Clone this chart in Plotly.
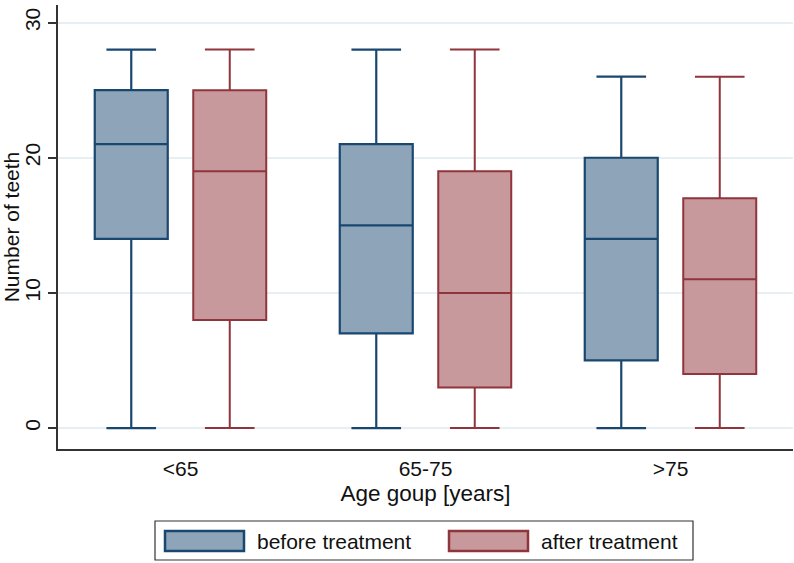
import plotly.graph_objects as go

groups = ["<65", "65-75", ">75"]
before_q1 = [14, 7, 5]
before_med = [21, 15, 14]
before_q3 = [25, 21, 20]
before_lo = [0, 0, 0]
before_hi = [28, 28, 26]

after_q1 = [8, 3, 4]
after_med = [19, 10, 11]
after_q3 = [25, 19, 17]
after_lo = [0, 0, 0]
after_hi = [28, 28, 26]

series_names = ["before treatment", "after treatment"]
line_colors = ["#1a476f", "#90353b"]
fill_colors = ["#8ea4b8", "#c8999c"]

fig = go.Figure()
data = [
    (before_q1, before_med, before_q3, before_lo, before_hi),
    (after_q1, after_med, after_q3, after_lo, after_hi),
]
for i, (q1, med, q3, lo, hi) in enumerate(data):
    fig.add_trace(go.Box(
        x=groups, q1=q1, median=med, q3=q3, lowerfence=lo, upperfence=hi,
        name=series_names[i], fillcolor=fill_colors[i],
        line=dict(color=line_colors[i], width=2.2 if i == 0 else 2),
        whiskerwidth=0.68, boxpoints=False, showlegend=False,
    ))

font = "Liberation Sans, Arial, sans-serif"
fig.update_layout(
    width=794, height=563,
    margin=dict(l=58, r=1, t=5, b=114),
    paper_bgcolor="white", plot_bgcolor="white",
    boxmode="group", boxgap=0.196, boxgroupgap=0.259,
    font=dict(family=font, size=21, color="#111"),
    xaxis=dict(
        range=[-0.5, 2.5], showline=True, linecolor="#333", linewidth=1.5,
        ticks="", showgrid=False,
        title=dict(text="Age goup [years]", standoff=6, font=dict(size=22.5)),
        tickfont=dict(size=21),
    ),
    yaxis=dict(
        range=[-1.55, 31.3], tickvals=[0, 10, 20, 30], showline=True, linecolor="#333",
        linewidth=1.5, ticks="outside", ticklen=8, tickcolor="#333", tickwidth=1.5,
        showgrid=True, gridcolor="#e7eff2", gridwidth=1.5, zeroline=False,
        tickangle=-90, tickfont=dict(size=21),
        title=dict(text="Number of teeth", standoff=4, font=dict(size=21)),
    ),
)

# legend drawn manually
fig.add_shape(type="rect", xref="paper", yref="paper",
              x0=(155 - 58) / 735, x1=(693 - 58) / 735,
              y0=-(560 - 449) / 444, y1=-(521 - 449) / 444,
              line=dict(color="#333", width=1.2), fillcolor="white")
legend_x = [165, 449]
for i in range(2):
    x0 = legend_x[i]
    fig.add_shape(type="rect", xref="paper", yref="paper",
                  x0=(x0 - 58) / 735, x1=(x0 + 79 - 58) / 735,
                  y0=-(551 - 449) / 444, y1=-(531 - 449) / 444,
                  line=dict(color=line_colors[i], width=2.5), fillcolor=fill_colors[i])
    fig.add_annotation(xref="paper", yref="paper", x=(x0 + 90 - 58) / 735,
                       y=-(541 - 449) / 444, text=series_names[i], showarrow=False,
                       xanchor="left", yanchor="middle", font=dict(size=21, color="#111"))

fig.write_html("out.html")
